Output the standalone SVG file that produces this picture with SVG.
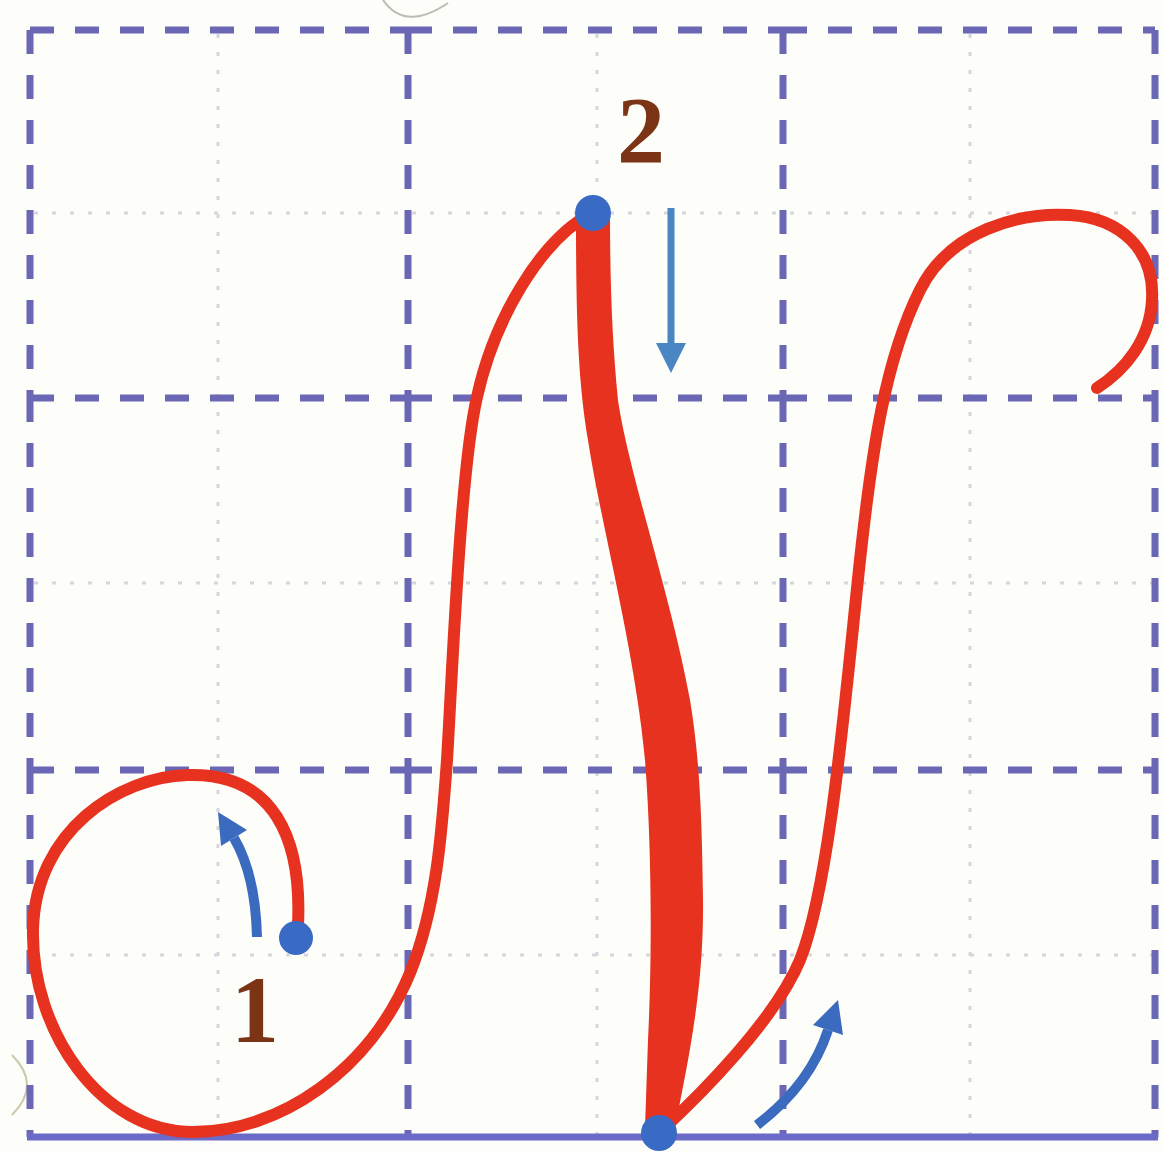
<svg xmlns="http://www.w3.org/2000/svg" width="1164" height="1153" viewBox="0 0 1164 1153">
  <style>
    .dash { stroke: #6a68b4; stroke-width: 7; stroke-dasharray: 24 21; fill: none; }
    .dot { stroke: #d6d6de; stroke-width: 3; stroke-dasharray: 4 14; fill: none; }
    .base { stroke: #6c6ac8; stroke-width: 7; fill: none; }
    .thin { stroke: #e6321e; stroke-width: 12; fill: none; stroke-linecap: round; }
    .pt { fill: #3a6bc4; }
    .arr { stroke: #3a6bbf; stroke-width: 10; fill: none; }
    .num { font-family: "Liberation Serif", "Times New Roman", serif; font-weight: bold; font-size: 96px; fill: #7b3516; text-anchor: middle; }
  </style>
  <rect x="0" y="0" width="1164" height="1153" fill="#fdfdf9"/>

  <g id="faint">
    <path d="M383,0 Q405,32 448,3" stroke="#bcbcb2" stroke-width="2" fill="none"/>
    <path d="M12,1055 Q42,1085 12,1115" stroke="#c8c8aa" stroke-width="2" fill="none"/>
  </g>

  <g id="grid-dotted">
    <line class="dot" x1="218" y1="34" x2="218" y2="1134"/>
    <line class="dot" x1="597" y1="34" x2="597" y2="1134"/>
    <line class="dot" x1="970" y1="34" x2="970" y2="1134"/>
    <line class="dot" x1="34" y1="213" x2="1152" y2="213"/>
    <line class="dot" x1="34" y1="583" x2="1152" y2="583"/>
    <line class="dot" x1="34" y1="955" x2="1152" y2="955"/>
  </g>

  <g id="grid-dashed">
    <line class="dash" x1="30" y1="30" x2="408" y2="30"/>
    <line class="dash" x1="408" y1="30" x2="783" y2="30"/>
    <line class="dash" x1="783" y1="30" x2="1155" y2="30"/>
    <line class="dash" x1="30" y1="398" x2="408" y2="398"/>
    <line class="dash" x1="408" y1="398" x2="783" y2="398"/>
    <line class="dash" x1="783" y1="398" x2="1155" y2="398"/>
    <line class="dash" x1="30" y1="770" x2="408" y2="770"/>
    <line class="dash" x1="408" y1="770" x2="783" y2="770"/>
    <line class="dash" x1="783" y1="770" x2="1155" y2="770"/>
    <line class="dash" x1="30" y1="30" x2="30" y2="398"/>
    <line class="dash" x1="30" y1="398" x2="30" y2="770"/>
    <line class="dash" x1="30" y1="770" x2="30" y2="1137"/>
    <line class="dash" x1="408" y1="30" x2="408" y2="398"/>
    <line class="dash" x1="408" y1="398" x2="408" y2="770"/>
    <line class="dash" x1="408" y1="770" x2="408" y2="1137"/>
    <line class="dash" x1="783" y1="30" x2="783" y2="398"/>
    <line class="dash" x1="783" y1="398" x2="783" y2="770"/>
    <line class="dash" x1="783" y1="770" x2="783" y2="1137"/>
    <line class="dash" x1="1155" y1="30" x2="1155" y2="398"/>
    <line class="dash" x1="1155" y1="398" x2="1155" y2="770"/>
    <line class="dash" x1="1155" y1="770" x2="1155" y2="1137"/>
    <line class="base" x1="27" y1="1137" x2="1158" y2="1137"/>
  </g>

  <g id="stroke-loop">
    <path class="thin" d="M298,925 C302,840 275,772 187,775 C120,777 35,830 33,930 C31,1030 100,1132 193,1132 C280,1132 370,1070 410,973 C437,906 442,830 447,760 C452,680 460,470 477,397 C494,320 540,240 592,213"/>
  </g>

  <g id="stroke-down">
    <path fill="#e6321e" d="M576,215 C576,320 578,380 588,440 C600,520 635,650 645,760 C652,850 652,960 648,1040 L645,1128 L675,1128 C688,1060 704,990 703,900 C702,820 700,760 690,700 C672,600 628,470 618,400 C612,340 610,280 610,215 Z"/>
  </g>

  <g id="stroke-up">
    <path class="thin" d="M662,1130 C700,1095 775,1020 800,960 C830,885 845,700 860,560 C872,450 885,360 920,290 C950,230 1020,212 1070,215 C1120,218 1155,250 1152,300 C1150,340 1125,370 1097,388"/>
  </g>

  <g id="point-1"><circle class="pt" cx="296" cy="938" r="17"/></g>
  <g id="point-2"><circle class="pt" cx="593" cy="213" r="18"/></g>
  <g id="point-3"><circle class="pt" cx="659" cy="1133" r="18"/></g>

  <g id="connectors">
    <path class="arr" d="M257,937 C256,895 248,862 234,838"/>
    <polygon fill="#3a6bbf" points="218,812 247,830 221,846"/>
    <line x1="671" y1="208" x2="671" y2="346" stroke="#4a85c4" stroke-width="7"/>
    <polygon fill="#4a85c4" points="656,343 686,343 671,373"/>
    <path class="arr" d="M757,1125 C790,1100 815,1070 828,1030"/>
    <polygon fill="#3a6bbf" points="838,1000 843,1035 813,1025"/>
  </g>

  <g id="label-1"><text class="num" x="255" y="1042">1</text></g>
  <g id="label-2"><text class="num" x="641" y="163">2</text></g>
</svg>
